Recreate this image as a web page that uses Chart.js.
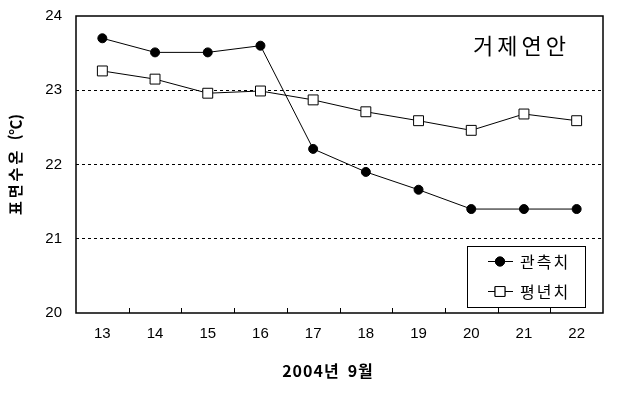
<!DOCTYPE html>
<html lang="ko">
<head>
<meta charset="UTF-8">
<title>거제연안 표면수온</title>
<style>
    html, body { margin: 0; padding: 0; background: #fff; }
    #wrap { width: 625px; height: 396px; }
</style>
</head>
<body>
<div id="wrap"><canvas id="chart" width="625" height="396"></canvas></div>
<script src="https://cdn.jsdelivr.net/npm/chart.js"></script>
<script>
    // 2004년 9월 날짜
    const days = ['13', '14', '15', '16', '17', '18', '19', '20', '21', '22'];
    // 관측치
    const observed = [23.70, 23.51, 23.51, 23.60, 22.21, 21.90, 21.66, 21.40, 21.40, 21.40];
    // 평년치
    const normal = [23.26, 23.15, 22.96, 22.99, 22.87, 22.71, 22.59, 22.46, 22.68, 22.59];

    const titleText = '거제연안';
    const fontFam = '"Liberation Sans", "Noto Sans CJK KR", sans-serif';

    // 테두리, 안쪽 눈금, 제목, 범례
    const decor = {
        id: 'decor',
        afterDraw(chart) {
            const ctx = chart.ctx;
            const a = chart.chartArea;
            const xs = chart.scales.x;
            ctx.save();
            ctx.strokeStyle = '#000';
            ctx.lineWidth = 1.5;
            ctx.strokeRect(a.left, a.top, a.right - a.left, a.bottom - a.top);

            ctx.lineWidth = 1;
            for (let i = 0; i < days.length - 1; i++) {
                const x = Math.round((xs.getPixelForTick(i) + xs.getPixelForTick(i + 1)) / 2) + 0.5;
                ctx.beginPath();
                ctx.moveTo(x, a.bottom);
                ctx.lineTo(x, a.bottom - 5);
                ctx.stroke();
            }

            ctx.fillStyle = '#000';
            ctx.font = '22px "Noto Sans CJK KR", sans-serif';
            ctx.letterSpacing = '4px';
            ctx.textBaseline = 'middle';
            ctx.textAlign = 'left';
            ctx.fillText(titleText, 473, 46);
            ctx.letterSpacing = '2px';

            // 범례
            const lx = 467, ly = 246, lw = 118, lh = 61;
            ctx.lineWidth = 1;
            ctx.strokeRect(lx + 0.5, ly + 0.5, lw, lh);
            ctx.font = '16px "Noto Sans CJK KR", sans-serif';
            chart.data.datasets.forEach((ds, i) => {
                const y = ly + 15 + i * 30;
                ctx.strokeStyle = ds.borderColor;
                ctx.lineWidth = 1;
                ctx.beginPath();
                ctx.moveTo(488, y + 0.5);
                ctx.lineTo(513, y + 0.5);
                ctx.stroke();
                Chart.helpers.drawPoint(ctx, {
                    pointStyle: ds.pointStyle,
                    radius: ds.pointRadius,
                    borderWidth: 1,
                    rotation: 0
                }, 500, y + 0.5);
                ctx.fillStyle = ds.pointBackgroundColor;
                ctx.strokeStyle = ds.pointBorderColor;
                ctx.fill();
                ctx.stroke();
                ctx.fillStyle = '#000';
                ctx.fillText(ds.label, 520, y + 1);
            });
            ctx.restore();
        }
    };

    new Chart(document.getElementById('chart'), {
        type: 'line',
        data: {
            labels: days,
            datasets: [
                {
                    label: '관측치',
                    data: observed,
                    borderColor: '#000',
                    borderWidth: 1,
                    pointStyle: 'circle',
                    pointRadius: 4.5,
                    pointBackgroundColor: '#000',
                    pointBorderColor: '#000',
                    tension: 0
                },
                {
                    label: '평년치',
                    data: normal,
                    borderColor: '#000',
                    borderWidth: 1,
                    pointStyle: 'rect',
                    pointRadius: 7,
                    pointBackgroundColor: '#fff',
                    pointBorderColor: '#000',
                    pointBorderWidth: 1,
                    tension: 0
                }
            ]
        },
        options: {
            responsive: false,
            animation: false,
            layout: { padding: { top: 16, right: 22, bottom: 0, left: 0 } },
            plugins: {
                legend: { display: false },
                tooltip: { enabled: false }
            },
            scales: {
                x: {
                    offset: true,
                    grid: { display: false, drawTicks: false },
                    border: { display: false },
                    ticks: {
                        color: '#000',
                        padding: 12,
                        font: { family: fontFam, size: 15 }
                    },
                    title: {
                        display: true,
                        text: '2\u200a0\u200a0\u200a4\u200a년\u2002\u200a9\u200a월\u2003\u2002',
                        color: '#000',
                        padding: { top: 0, bottom: 15 },
                        font: { family: '"Noto Sans CJK KR", sans-serif', size: 16, weight: 'bold' }
                    },
                    afterFit(scale) { scale.height = 83; }
                },
                y: {
                    min: 20,
                    max: 24,
                    ticks: {
                        stepSize: 1,
                        color: '#000',
                        padding: 14,
                        font: { family: fontFam, size: 15 }
                    },
                    grid: {
                        drawTicks: false,
                        color: c => (c.tick.value > 20 && c.tick.value < 24) ? '#000' : 'rgba(0,0,0,0)',
                        lineWidth: 1
                    },
                    border: { display: false, dash: [3, 3] },
                    title: {
                        display: true,
                        text: '표\u2009면\u2009수\u2009온\u2002\u2009(℃)',
                        color: '#000',
                        padding: { top: 6, bottom: 0 },
                        font: { family: '"Noto Sans CJK KR", sans-serif', size: 15, weight: 'bold' }
                    },
                    afterFit(scale) {
                        scale.width = 76;
                        scale.paddingTop = 0;
                        scale.paddingBottom = 0;
                    }
                }
            }
        },
        plugins: [decor]
    });
</script>
</body>
</html>
